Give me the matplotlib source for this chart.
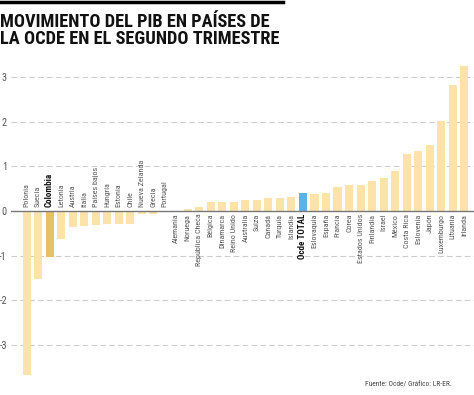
import matplotlib
matplotlib.use('Agg')
import matplotlib.pyplot as plt
from matplotlib.lines import Line2D
from matplotlib import font_manager as fm

countries = ["Polonia", "Suecia", "Colombia", "Letonia", "Austria", "Italia",
             "Países bajos", "Hungría", "Estonia", "Chile", "Nueva Zelanda",
             "Grecia", "Portugal", "Alemania", "Noruega", "República Checa",
             "Bélgica", "Dinamarca", "Reino Unido", "Australia", "Suiza",
             "Canadá", "Turquía", "Islandia", "Ocde TOTAL", "Eslovaquia",
             "España", "Francia", "Corea", "Estados Unidos", "Finlandia",
             "Israel", "México", "Costa Rica", "Eslovenia", "Japón",
             "Luxemburgo", "Lituania", "Irlanda"]
values = [-3.68, -1.52, -1.04, -0.63, -0.35, -0.33, -0.31, -0.30, -0.30, -0.30,
          -0.07, -0.07, -0.02, 0.01, 0.04, 0.10, 0.20, 0.20, 0.20, 0.24, 0.25,
          0.29, 0.30, 0.31, 0.40, 0.39, 0.40, 0.55, 0.58, 0.59, 0.67, 0.74,
          0.90, 1.29, 1.35, 1.47, 2.01, 2.83, 3.25]
yticks = [-3, -2, -1, 0, 1, 2, 3]
highlight = {"Colombia": "#e8c062", "Ocde TOTAL": "#5cb1e6"}
base_color = "#fde3a9"
title_lines = ["MOVIMIENTO DEL PIB EN PAÍSES DE", "LA OCDE EN EL SEGUNDO TRIMESTRE"]
source = "Fuente: Ocde/ Gráfico: LR-ER."


def _weight(f):
    w = f.weight
    if isinstance(w, str):
        return {'bold': 700, 'normal': 400, 'regular': 400, 'semibold': 600,
                'light': 300, 'medium': 500}.get(w.lower(), 400)
    return int(w)


def pick_font(target_weight):
    prefs = ['liberation sans narrow', 'roboto condensed', 'dejavu sans condensed',
             'dejavusanscondensed', 'noto sans condensed', 'notosans-condensed',
             'open sans condensed', 'condensed', 'narrow']
    best, best_score = None, None
    for f in fm.fontManager.ttflist:
        key = (f.name + ' ' + f.fname).lower()
        if f.style != 'normal' or 'mono' in key or 'serif' in key.replace('sans', ''):
            continue
        cond = ('condensed' in key or 'narrow' in key or
                str(f.stretch) in ('condensed', 'semi-condensed'))
        if not cond or 'extra' in key or 'ultra' in key:
            continue
        rank = next((i for i, p in enumerate(prefs) if p in key), len(prefs))
        score = (rank, abs(_weight(f) - target_weight))
        if best_score is None or score < best_score:
            best, best_score = f, score
    if best is None:
        return fm.FontProperties(family='Liberation Sans',
                                 weight='bold' if target_weight > 500 else 'normal')
    return fm.FontProperties(fname=best.fname)


reg = pick_font(400)
bold = pick_font(700)

plt.rcParams['axes.unicode_minus'] = False

fig = plt.figure(figsize=(4.74, 3.95), dpi=100)
renderer = fig.canvas.get_renderer()


def fit_size(text, prop, target_px, rotation=0):
    p = prop.copy()
    p.set_size(10)
    t = fig.text(0, 0, text, fontproperties=p, rotation=rotation)
    bb = t.get_window_extent(renderer)
    w = bb.height if rotation else bb.width
    t.remove()
    return 10 * target_px / w


lab_size = fit_size("República Checa", reg, 47) * 1.12
lab_bold_size = fit_size("Ocde TOTAL", bold, 42) * 1.08
title_size = fit_size(title_lines[0], bold, 270)
src_size = fit_size(source, reg, 81) * 1.05

ax = fig.add_axes([11/474, 0.0367, 1 - 11/474, 0.8129])

x = list(range(len(countries)))
colors = [highlight.get(c, base_color) for c in countries]
ax.bar(x, values, width=0.7, color=colors, zorder=2)

ax.set_xlim(-1.35, 38.85)
ax.set_ylim(-3.8, 3.4)
ax.set_yticks(yticks)
tp = reg.copy(); tp.set_size(7.4)
ax.set_yticklabels([str(t) for t in yticks], fontproperties=tp, color='#555555')
ax.tick_params(axis='y', length=0, pad=3)
ax.set_xticks([])
for s in ax.spines.values():
    s.set_visible(False)
for t in yticks:
    if t != 0:
        ax.axhline(t, color='#cccccc', lw=0.8, ls=(0, (5, 3)), zorder=1)
ax.axhline(0, color='#777777', lw=1.0, zorder=3)

lp = reg.copy(); lp.set_size(lab_size)
lbp = bold.copy(); lbp.set_size(lab_bold_size)
for xi, c, v in zip(x, countries, values):
    is_b = c in highlight
    prop = lbp if is_b else lp
    col = '#111111' if is_b else '#555555'
    if v < 0:
        ax.text(xi, 0.09, c, rotation=90, ha='center', va='bottom',
                fontproperties=prop, color=col)
    else:
        ax.text(xi, -0.06, c, rotation=90, ha='center', va='top',
                fontproperties=prop, color=col)

fig.add_artist(Line2D([0, 283/474], [1 - 1.5/395, 1 - 1.5/395], color='black', lw=2.5))
ttp = bold.copy(); ttp.set_size(title_size)
fig.text(0.0, 1 - 26.7/395, title_lines[0], ha='left', va='baseline',
         fontproperties=ttp, color='#111111')
fig.text(0.0, 1 - 44/395, title_lines[1], ha='left', va='baseline',
         fontproperties=ttp, color='#111111')
sp = reg.copy(); sp.set_size(src_size)
fig.text(452/474, 1 - 385/395, source, ha='right', va='center',
         fontproperties=sp, color='#444444')

fig.savefig('out.png', dpi=100)
